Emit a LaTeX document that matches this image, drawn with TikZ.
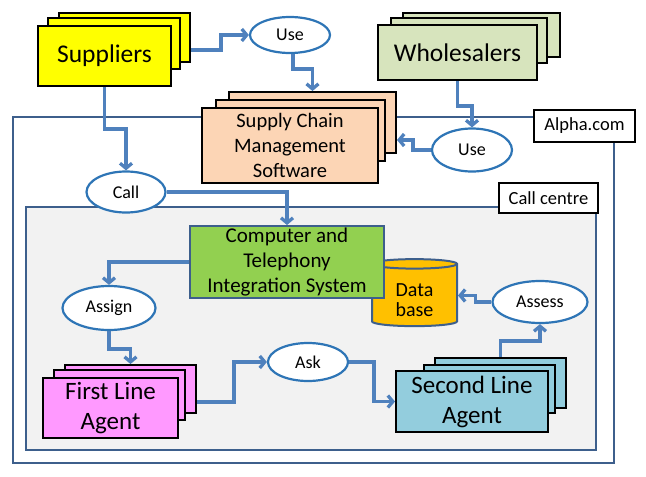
\documentclass[tikz,border=0pt]{standalone}
\usepackage{fontspec}
\setmainfont{Carlito}
\usetikzlibrary{shapes.geometric, arrows.meta, calc}

\definecolor{flowblue}{HTML}{4F81BD}
\definecolor{bubbleblue}{HTML}{2E75B6}
\definecolor{frameblue}{HTML}{3D5F8C}
\definecolor{ccgray}{HTML}{F2F2F2}
\definecolor{suppyellow}{HTML}{FFFF00}
\definecolor{whlgreen}{HTML}{D7E4BD}
\definecolor{scmpeach}{HTML}{FCD5B5}
\definecolor{ctigreen}{HTML}{92D050}
\definecolor{dbyellow}{HTML}{FFC000}
\definecolor{flapink}{HTML}{FF99FF}
\definecolor{slablue}{HTML}{93CDDD}

\begin{document}
\begin{tikzpicture}[x=1pt, y=-1pt,
      page/.style={rectangle, draw=black, line width=2pt, inner sep=0pt, align=center},
      bubble/.style={ellipse, draw=bubbleblue, line width=2.2pt, fill=white, inner sep=0pt,
        font=\fontsize{18}{20}\selectfont},
      tag/.style={rectangle, draw=black, line width=2pt, fill=white, inner sep=0pt,
        font=\fontsize{18.5}{20}\selectfont},
      frame/.style={draw=frameblue, line width=2pt},
      flow/.style={draw=flowblue, line width=3.3pt, -{Straight Barb[length=5pt,width=12pt]}}]

      \useasboundingbox (0,0) rectangle (646,477);

      \draw[frame] (13,117) rectangle (614,463);
      \draw[frame, fill=ccgray] (26,207) rectangle (596,450);
      \node[tag, minimum width=101pt, minimum height=32pt] (alpha) at (584.5,126) {Alpha.com};
      \node[tag, minimum width=99pt, minimum height=30pt] (centre) at (548.5,198) {Call centre};

      \node[page, fill=suppyellow, minimum width=131pt, minimum height=49pt] (sup3) at (124.5,37.5) {};
      \node[page, fill=suppyellow, minimum width=132pt, minimum height=51pt] (sup2) at (114,43.5) {};
      \node[page, fill=suppyellow, minimum width=133pt, minimum height=60pt,
        font=\fontsize{25.5}{30}\selectfont] (sup) at (104.5,56) {Suppliers};

      \node[page, fill=whlgreen, minimum width=157pt, minimum height=44pt] (whl3) at (481.5,35) {};
      \node[page, fill=whlgreen, minimum width=156pt, minimum height=45pt] (whl2) at (469,40.5) {};
      \node[page, fill=whlgreen, minimum width=159pt, minimum height=55pt,
        font=\fontsize{25.5}{30}\selectfont] (whl) at (457.5,52.5) {Wholesalers};

      \node[page, fill=scmpeach, minimum width=167pt, minimum height=61pt] (scm3) at (312.5,122.5) {};
      \node[page, fill=scmpeach, minimum width=169pt, minimum height=61pt] (scm2) at (300.5,130.5) {};
      \node[page, fill=scmpeach, minimum width=176pt, minimum height=75pt,
        font=\fontsize{20.5}{25}\selectfont] (scm) at (290,145.5) {Supply Chain\\Management\\Software};

      \node[cylinder, shape border rotate=90, aspect=0.25, draw=frameblue, line width=2pt,
        fill=dbyellow, minimum width=85pt, minimum height=67pt, inner sep=0pt,
        font=\fontsize{20}{19}\selectfont] (db) at (414.5,295.5)
        {\raisebox{-7pt}[\height][\depth]{\begin{tabular}{@{}c@{}}Data\\base\end{tabular}}};

      \node[draw=frameblue, line width=2pt, fill=ctigreen, minimum width=194pt, minimum height=72pt,
        inner sep=0pt, align=center, font=\fontsize{21}{25}\selectfont] (cti) at (287,262)
        {Computer and\\Telephony\\Integration System};

      \node[page, fill=flapink, minimum width=131pt, minimum height=48pt] (fla3) at (130.5,389) {};
      \node[page, fill=flapink, minimum width=131pt, minimum height=50pt] (fla2) at (119.5,395) {};
      \node[page, fill=flapink, minimum width=135pt, minimum height=60pt,
        font=\fontsize{25}{30}\selectfont] (fla) at (110.5,408) {First Line\\Agent};

      \node[page, fill=slablue, minimum width=131pt, minimum height=50pt] (sla3) at (500.5,383) {};
      \node[page, fill=slablue, minimum width=131pt, minimum height=48pt] (sla2) at (489.5,389) {};
      \node[page, fill=slablue, minimum width=152pt, minimum height=61pt,
        font=\fontsize{25}{30}\selectfont] (sla) at (472,401.5) {Second Line\\Agent};

      \node[bubble, minimum width=80pt, minimum height=36pt] (use1) at (290,35) {Use};
      \node[bubble, minimum width=80pt, minimum height=43pt] (use2) at (472,150) {Use};
      \node[bubble, minimum width=79pt, minimum height=41pt] (call) at (126,192) {Call};
      \node[bubble, minimum width=93pt, minimum height=44pt] (assign) at (109,308) {Assign};
      \node[bubble, minimum width=80pt, minimum height=38pt] (ask) at (308,362) {Ask};
      \node[bubble, minimum width=95pt, minimum height=42pt] (assess) at (540,302) {Assess};

      \draw[flow] ([yshift=-12.5pt]sup3.east) -- ++(30,0) |- (use1.west);
      \draw[flow] ([xshift=3pt]use1.south) -- ++(0,15) -| (scm3.north);
      \draw[flow] (sup.south) -- ++(0,42) -| (call.north);
      \draw[flow] (whl.south) -- ++(0,25) -| (use2.north);
      \draw[flow] (use2.west) -- ++(-18,0) |- ([yshift=-17.5pt]scm3.east);
      \draw[flow] (call.east) -| (cti.north);
      \draw[flow] (cti.west) -| (assign.north);
      \draw[flow] (assign.south) -- ++(0,18) -| (fla3.north);
      \draw[flow] ([yshift=-13pt]fla3.east) -- ++(37,0) |- (ask.west);
      \draw[flow] (ask.east) -- ++(25,0) |- (sla.west);
      \draw[flow] (sla3.north) -- ++(0,-16) -| (assess.south);
      \draw[flow] (assess.west) -- ++(-16,0) |- (db.east);
    \end{tikzpicture}
\end{document}
